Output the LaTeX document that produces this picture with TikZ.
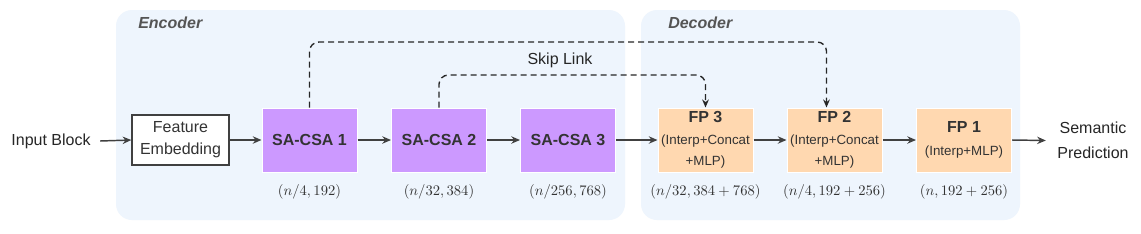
\documentclass[tikz,border=0pt]{standalone}
\usepackage[no-math]{fontspec}
\setmainfont{Liberation Sans}
\usetikzlibrary{arrows.meta,positioning,calc}
\definecolor{bgc}{HTML}{EEF5FD}
\definecolor{purp}{HTML}{CC99FF}
\definecolor{peach}{HTML}{FFD8B0}
\definecolor{arr}{HTML}{404040}
\definecolor{lbl}{HTML}{555555}
\begin{document}
\begin{tikzpicture}[x=0.75pt,y=-0.75pt,
  panel/.style={fill=bgc, rounded corners=12pt},
  paneltitle/.style={font=\fontsize{12}{14}\selectfont\bfseries\itshape, text=lbl, anchor=west, inner sep=0pt},
  plain/.style={font=\fontsize{12}{16.5}\selectfont, align=center, text=black!85, inner sep=1pt},
  febox/.style={draw=arr, line width=1pt, fill=white, minimum width=72.75pt, minimum height=37.5pt, align=center, inner sep=0pt, font=\fontsize{12}{16.5}\selectfont, text=black!80},
  sabox/.style={fill=purp, draw=white, line width=0.75pt, minimum width=71.25pt, minimum height=48pt, inner sep=0pt, font=\fontsize{12}{14}\selectfont\bfseries, text=black!80},
  fpbox/.style={fill=peach, draw=white, line width=0.75pt, minimum width=71.25pt, minimum height=48pt, inner sep=0pt, align=center, font=\fontsize{10}{16}\selectfont, text=black!80},
  dimlab/.style={font=\fontsize{11}{13}\selectfont, text=black!80, inner sep=0pt, below=8.5pt},
  flow/.style={draw=arr, line width=1.1pt, -{Stealth[length=6.5pt,width=5.5pt]}},
  skip/.style={draw=black!85, line width=1pt, dash pattern=on 4.5pt off 3pt, rounded corners=7pt, -{Stealth[length=6pt,width=5pt]}}
]
\useasboundingbox (0,0) rectangle (1141,233);
\fill[white] (0,0) rectangle (1141,233);

% panels
\fill[panel] (116,10) rectangle (625,220);
\fill[panel] (641,10) rectangle (1020,220);
\node[paneltitle] (enct) at (138,23) {Encoder};
\node[paneltitle] (dect) at (668,23) {Decoder};

% nodes
\node[plain] (inp) at (51,141) {Input Block};
\node[febox] (fe) at (180.5,140) {Feature\\Embedding};
\node[sabox] (sa1) at (309.5,140) {SA-CSA 1};
\node[sabox] (sa2) at (439,140) {SA-CSA 2};
\node[sabox] (sa3) at (568,140) {SA-CSA 3};
\node[fpbox] (fp3) at (705.5,140) {{\fontsize{12}{16}\selectfont\bfseries FP 3}\\(Interp+Concat\\+MLP)};
\node[fpbox] (fp2) at (834.5,140) {{\fontsize{12}{16}\selectfont\bfseries FP 2}\\(Interp+Concat\\+MLP)};
\node[fpbox, font=\fontsize{10}{17}\selectfont] (fp1) at (964,140) {{\fontsize{12}{17}\selectfont\bfseries FP 1}\\(Interp+MLP)};
\node[plain, font=\fontsize{12}{18.5}\selectfont] (out) at (1093,140.5) {Semantic\\Prediction};

% dimension labels
\node[dimlab] (l1) at (sa1.south) {$(n/4,192)$};
\node[dimlab] (l2) at (sa2.south) {$(n/32,384)$};
\node[dimlab] (l3) at (sa3.south) {$(n/256,768)$};
\node[dimlab] (l4) at (fp3.south) {$(n/32,384+768)$};
\node[dimlab] (l5) at (fp2.south) {$(n/4,192+256)$};
\node[dimlab] (l6) at (fp1.south) {$(n,192+256)$};

% main flow
\coordinate (inpe) at ($(inp.east)+(8,0)$);
\coordinate (oute) at ($(out.west)+(-10,0)$);
\draw[flow] (inpe) -- (fe.west);
\draw[flow] (fe) -- (sa1);
\draw[flow] (sa1) -- (sa2);
\draw[flow] (sa2) -- (sa3);
\draw[flow] (sa3) -- (fp3);
\draw[flow] (fp3) -- (fp2);
\draw[flow] (fp2) -- (fp1);
\draw[flow] (fp1.east) -- (oute);

% skip links
\coordinate (fp2in) at ($(fp2.north)+(-8,0)$);
\coordinate (h1) at (0,42);
\coordinate (h2) at (0,75);
\draw[skip] (sa1.north) |- (h1 -| fp2in) -- (fp2in);
\draw[skip] (sa2.north) |- (h2 -| fp3.north) -- (fp3.north);
\node[plain] (sk) at (560,60) {Skip Link};
\end{tikzpicture}
\end{document}
